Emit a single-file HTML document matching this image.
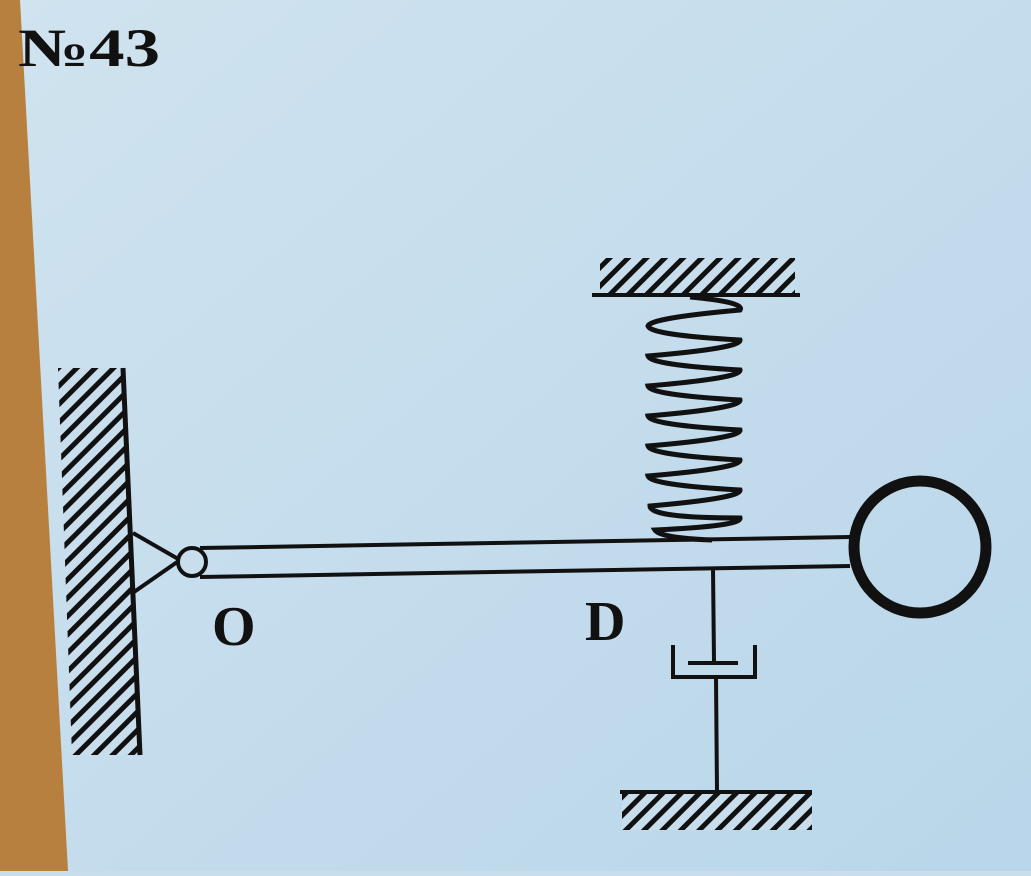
<!DOCTYPE html>
<html><head><style>
html,body{margin:0;padding:0;}
body{width:1031px;height:871px;overflow:hidden;background:#c8deed;}
</style></head><body>
<svg width="1031" height="871" viewBox="0 0 1031 871" xmlns="http://www.w3.org/2000/svg">
<defs>
<pattern id="h" patternUnits="userSpaceOnUse" width="13" height="13" patternTransform="rotate(45)">
<rect width="13" height="13" fill="#c8deed"/>
<rect x="0" y="0" width="5" height="13" fill="#111"/>
</pattern>
<linearGradient id="bg" x1="0" y1="0" x2="1" y2="1">
<stop offset="0" stop-color="#d0e3ef"/><stop offset="1" stop-color="#b9d6ea"/>
</linearGradient>
</defs>
<rect width="1031" height="871" fill="url(#bg)"/>
<polygon points="0,0 20,0 68,871 0,871" fill="#b8803f"/>
<text x="18" y="66" font-family="Liberation Serif, serif" font-weight="bold" font-size="54" fill="#111" textLength="142" lengthAdjust="spacingAndGlyphs">№43</text>
<!-- left wall -->
<polygon points="58,368 124,368 140,755 72,755" fill="url(#h)"/>
<line x1="123" y1="368" x2="140" y2="755" stroke="#111" stroke-width="5"/>
<polyline points="133,533 180,560 134,592" fill="none" stroke="#111" stroke-width="4"/>
<!-- rod -->
<line x1="200" y1="548" x2="850" y2="537" stroke="#111" stroke-width="4"/>
<line x1="200" y1="577" x2="850" y2="566" stroke="#111" stroke-width="4"/>
<circle cx="192" cy="562" r="14" fill="#c8deed" stroke="#111" stroke-width="4"/>
<circle cx="920" cy="547" r="66" fill="none" stroke="#111" stroke-width="11"/>
<!-- top support -->
<rect x="600" y="258" width="195" height="36" fill="url(#h)"/>
<line x1="592" y1="295" x2="800" y2="295" stroke="#111" stroke-width="4"/>
<!-- spring -->
<path d="M690,297 Q745,302 740,310 Q650,318 648,326 Q650,335 740,340 Q742,348 648,356 Q650,365 740,370 Q742,378 648,386 Q650,395 740,400 Q742,408 648,416 Q650,425 740,430 Q742,438 648,446 Q650,455 740,460 Q742,468 648,476 Q650,485 740,490 Q742,498 650,506 Q650,518 740,518 Q742,526 655,530 Q660,538 712,540" fill="none" stroke="#111" stroke-width="5"/>
<!-- damper -->
<line x1="713" y1="567" x2="714" y2="662" stroke="#111" stroke-width="4"/>
<line x1="688" y1="663" x2="738" y2="663" stroke="#111" stroke-width="4"/>
<polyline points="673,645 673,677 755,677 755,645" fill="none" stroke="#111" stroke-width="4"/>
<line x1="716" y1="677" x2="717" y2="792" stroke="#111" stroke-width="4"/>
<line x1="620" y1="792" x2="812" y2="792" stroke="#111" stroke-width="4"/>
<rect x="622" y="794" width="190" height="36" fill="url(#h)"/>
<text x="212" y="645" font-family="Liberation Serif, serif" font-weight="bold" font-size="56" fill="#111">O</text>
<text x="585" y="640" font-family="Liberation Serif, serif" font-weight="bold" font-size="56" fill="#111">D</text>
</svg>
</body></html>
